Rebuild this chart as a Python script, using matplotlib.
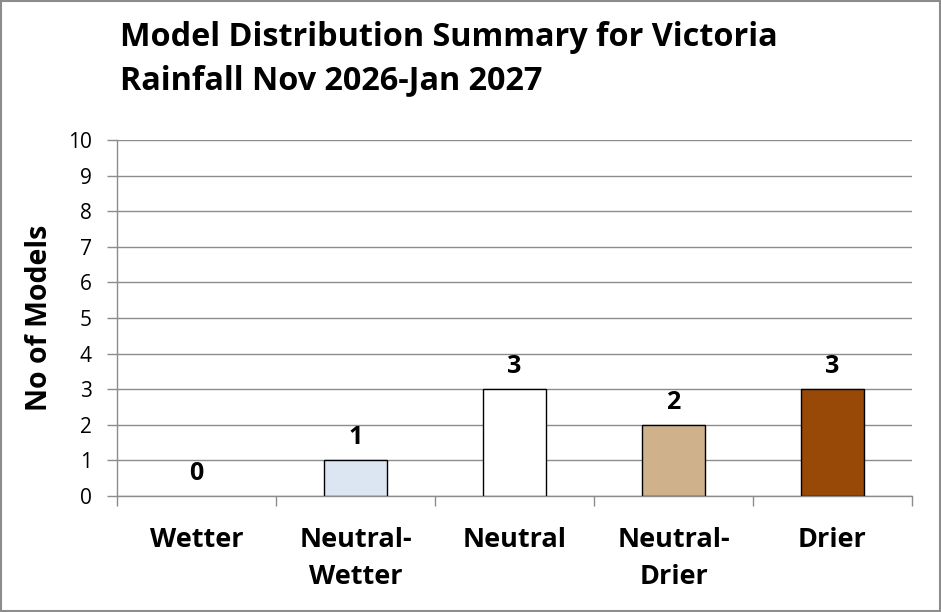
import matplotlib.pyplot as plt
from matplotlib.patches import Rectangle

# data
categories = ['Wetter', 'Neutral-\nWetter', 'Neutral', 'Neutral-\nDrier', 'Drier']
counts = [0, 1, 3, 2, 3]
bar_colors = ['#FFFFFF', '#DCE6F2', '#FFFFFF', '#CFB28C', '#984807']

plt.rcParams['font.family'] = ['Open Sans', 'DejaVu Sans']

fig = plt.figure(figsize=(9.41, 6.12), dpi=100)
ax = fig.add_axes([117/941, 1 - 496/612, 795/941, 356/612])

x = range(len(categories))
edges = ['black' if v > 0 else 'none' for v in counts]
ax.bar(x, counts, width=0.4, color=bar_colors, edgecolor=edges, linewidth=1.0, zorder=3)
for xi, v in zip(x, counts):
    ax.text(xi, v + 0.28, str(v), ha='center', va='bottom', fontsize=18, fontweight='bold')

ax.set_xlim(-0.5, len(categories) - 0.5)
ax.set_ylim(0, 10)
ax.set_yticks(range(0, 11))
ax.yaxis.grid(True, color='#8c8c8c', linewidth=1.0, zorder=0)
ax.set_axisbelow(True)

# category labels centred, ticks at the boundaries
ax.set_xticks(list(x))
ax.set_xticklabels(categories, fontsize=19.5, fontweight='bold', linespacing=1.58, va='top')
ax.tick_params(axis='x', length=0, pad=22)
ax.set_xticks([i - 0.5 for i in range(len(categories) + 1)], minor=True)
ax.tick_params(axis='x', which='minor', length=7, color='#8c8c8c', width=1.0, direction='out')
ax.tick_params(axis='y', length=7, color='#8c8c8c', width=1.0, labelsize=15, pad=11)

for s in ['top', 'right']:
    ax.spines[s].set_visible(False)
for s in ['left', 'bottom']:
    ax.spines[s].set_color('#8c8c8c')
    ax.spines[s].set_linewidth(1.0)

ax.set_ylabel('No of Models', fontsize=20.5, fontweight='bold', labelpad=10)

fig.text(120/941, 1 - 21/612, 'Model Distribution Summary for Victoria\nRainfall Nov 2026-Jan 2027',
         ha='left', va='top', fontsize=23.3, fontweight='bold', linespacing=1.42)

fig.patches.append(Rectangle((0.001, 0.001), 0.998, 0.997, transform=fig.transFigure,
                             fill=False, edgecolor='#8c8c8c', linewidth=1.5))

fig.savefig('out.png', dpi=100)
